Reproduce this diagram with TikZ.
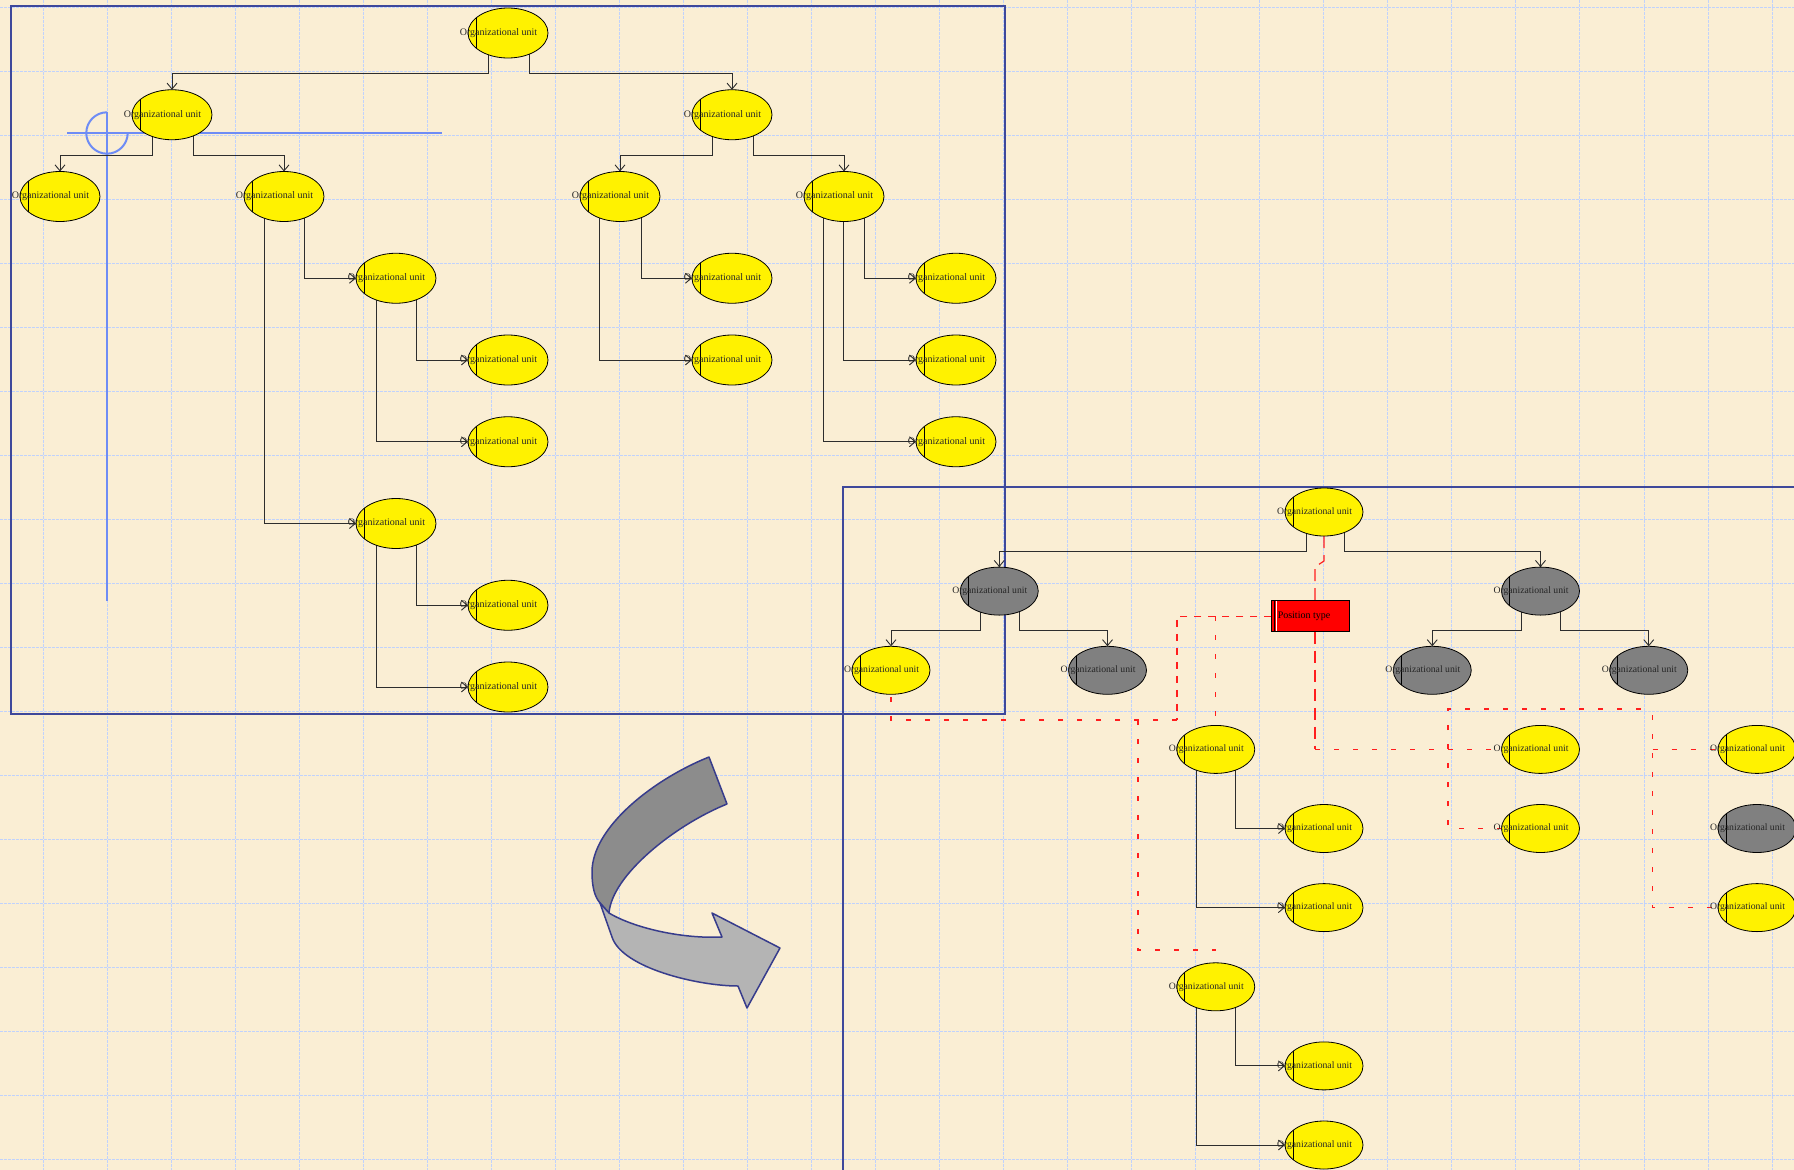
\documentclass[tikz,border=0pt]{standalone}
\usepackage{fontspec}
\setmainfont{Liberation Serif}
\usetikzlibrary{shapes.geometric,arrows.meta,calc}
\pgfdeclarelayer{bg}
\pgfdeclarelayer{edges}
\pgfsetlayers{bg,edges,main}

\definecolor{paper}{RGB}{250,238,212}
\definecolor{gridc}{RGB}{192,210,252}
\definecolor{framec}{RGB}{62,72,155}
\definecolor{crossc}{RGB}{110,140,245}
\definecolor{arrowline}{RGB}{55,60,140}
\definecolor{arrowdark}{RGB}{140,140,140}
\definecolor{arrowlight}{RGB}{180,180,180}
\definecolor{grayunit}{RGB}{128,128,128}
\definecolor{connc}{RGB}{45,45,45}
\definecolor{dashred}{RGB}{255,30,30}

\newcommand\oulabel{\makebox[0pt]{Organizational unit\hspace{19pt}}}
\newcommand\downedge[3]{\draw[conn] ([xshift=#3pt]#1.center) |- ($(#1.center)!.5!(#2.center)$) -| (#2.north);}
\newcommand\sideedge[3]{\draw[conn] ([xshift=#3pt]#1.center) |- (#2.west);}

\tikzset{
  unitL/.style={ellipse, draw=black, line width=0.8pt, minimum width=80pt, minimum height=50pt,
    inner sep=0pt, outer sep=0pt, fill=yellow, font=\fontsize{10}{12}\selectfont, text=black!85,
    path picture={\draw[black, line width=0.9pt] ([xshift=8pt]path picture bounding box.north west) -- ([xshift=8pt]path picture bounding box.south west);}},
  unitR/.style={unitL, minimum width=78pt, minimum height=48pt, font=\fontsize{9.7}{11}\selectfont},
  grayfill/.style={fill=grayunit},
  conn/.style={draw=connc, line width=1pt, -{Straight Barb[length=6pt,width=10pt,line width=0.9pt]}},
  redline/.style={draw=dashred, line width=1.2pt, dash pattern=on 7pt off 7pt},
  redsparse/.style={draw=dashred, line width=1.2pt, dash pattern=on 5pt off 14pt},
  redlong/.style={draw=dashred, line width=1.2pt, dash pattern=on 12pt off 7pt},
  gridline/.style={draw=gridc, line width=1pt, dash pattern=on 2.5pt off 1.5pt},
  framebox/.style={draw=framec, line width=2pt},
  crossline/.style={draw=crossc, line width=2pt},
  ptbox/.style={rectangle, draw=black, line width=1pt, fill=red, minimum width=78.5pt, minimum height=31pt,
    inner sep=0pt, outer sep=0pt, font=\fontsize{10}{12}\selectfont,
    path picture={\draw[black, line width=0.8pt] ([xshift=3pt]path picture bounding box.north west) -- ([xshift=3pt]path picture bounding box.south west);
                  \draw[white, line width=1pt] ([xshift=5pt]path picture bounding box.north west) -- ([xshift=5pt]path picture bounding box.south west);}}
}

\begin{document}
\begin{tikzpicture}[x=1pt,y=-1pt]
\useasboundingbox (0,0) rectangle (1794,1170);

\begin{pgfonlayer}{bg}
  \fill[paper] (0,0) rectangle (1794,1170);
  \foreach \i in {0,...,27} \draw[gridline] ({43+64.04*\i},0) -- ({43+64.04*\i},1170);
  \foreach \j in {0,...,18} \draw[gridline] (0,{7+64*\j}) -- (1794,{7+64*\j});
  % curved arrow
  \filldraw[draw=arrowline, fill=arrowdark, line width=1.5pt, line join=round]
    (709,757) .. controls (654,779) and (592,827) .. (592,872)
    .. controls (592,888) and (595,897) .. (600,903) -- (609,913)
    .. controls (612,875) and (675,825) .. (727,804) -- cycle;
  \filldraw[draw=arrowline, fill=arrowlight, line width=1.5pt, line join=round]
    (600,903) -- (612,937) .. controls (622,968) and (698,986) .. (738,986)
    -- (747,1008) -- (780,948) -- (712,913) -- (722,937)
    .. controls (682,939) and (634,928) .. (609,913) -- cycle;
  % frames
  \draw[framebox] (11,6) rectangle (1005,714);
  \draw[framebox] (1800,487) -- (843,487) -- (843,1176);
  % crosshair
  \draw[crossline] (67,133) -- (442,133);
  \draw[crossline] (107,112.3) -- (107,601);
  \begin{scope}
    \clip (80,100) -- (107,100) -- (107,133) -- (140,133) -- (140,165) -- (80,165) -- cycle;
    \draw[crossline] (107,133) circle[radius=20.7pt];
  \end{scope}
\end{pgfonlayer}

% left tree
\node[unitL] (L0) at (508,33) {\oulabel};
\node[unitL] (L1) at (172,114.75) {\oulabel};
\node[unitL] (L2) at (732,114.75) {\oulabel};
\node[unitL] (L3) at (60,196.5) {\oulabel};
\node[unitL] (L4) at (284,196.5) {\oulabel};
\node[unitL] (L5) at (620,196.5) {\oulabel};
\node[unitL] (L6) at (844,196.5) {\oulabel};
\node[unitL] (L7) at (396,278.25) {\oulabel};
\node[unitL] (L8) at (732,278.25) {\oulabel};
\node[unitL] (L9) at (956,278.25) {\oulabel};
\node[unitL] (L10) at (508,360) {\oulabel};
\node[unitL] (L11) at (732,360) {\oulabel};
\node[unitL] (L12) at (956,360) {\oulabel};
\node[unitL] (L13) at (508,441.75) {\oulabel};
\node[unitL] (L14) at (956,441.75) {\oulabel};
\node[unitL] (L15) at (396,523.5) {\oulabel};
\node[unitL] (L16) at (508,605.25) {\oulabel};
\node[unitL] (L17) at (508,687) {\oulabel};

% right tree
\node[unitR] (R0) at (1324,512) {\oulabel};
\node[unitR,grayfill] (R1) at (999.25,591.1) {\oulabel};
\node[unitR,grayfill] (R2) at (1540.5,591.1) {\oulabel};
\node[unitR] (R3) at (891,670.3) {\oulabel};
\node[unitR,grayfill] (R4) at (1107.5,670.3) {\oulabel};
\node[unitR,grayfill] (R5) at (1432.25,670.3) {\oulabel};
\node[unitR,grayfill] (R6) at (1648.75,670.3) {\oulabel};
\node[unitR] (R7) at (1215.75,749.4) {\oulabel};
\node[unitR] (R8) at (1540.5,749.4) {\oulabel};
\node[unitR] (R9) at (1757,749.4) {\oulabel};
\node[unitR] (R10) at (1324,828.5) {\oulabel};
\node[unitR] (R11) at (1540.5,828.5) {\oulabel};
\node[unitR,grayfill] (R12) at (1757,828.5) {\oulabel};
\node[unitR] (R13) at (1324,907.6) {\oulabel};
\node[unitR] (R14) at (1757,907.6) {\oulabel};
\node[unitR] (R15) at (1215.75,986.8) {\oulabel};
\node[unitR] (R16) at (1324,1065.9) {\oulabel};
\node[unitR] (R17) at (1324,1145) {\oulabel};

\node[ptbox] (pt) at (1310.5,616.2) {\makebox[0pt]{Position type\hspace{13pt}}};

\coordinate (j1) at (1177,720);
\coordinate (j2) at (1138,720);
\coordinate (j3) at (1138,950);
\coordinate (j5) at (1448,709);
\coordinate (j6) at (1644,709);
\coordinate (j7) at (1652.5,715);

\begin{pgfonlayer}{edges}
  \downedge{L0}{L1}{-20} \downedge{L0}{L2}{21}
  \downedge{L1}{L3}{-20} \downedge{L1}{L4}{21}
  \downedge{L2}{L5}{-20} \downedge{L2}{L6}{21}
  \sideedge{L4}{L7}{20} \sideedge{L4}{L15}{-20}
  \sideedge{L7}{L10}{20} \sideedge{L7}{L13}{-20}
  \sideedge{L15}{L16}{20} \sideedge{L15}{L17}{-20}
  \sideedge{L5}{L8}{21} \sideedge{L5}{L11}{-21}
  \sideedge{L6}{L9}{20} \sideedge{L6}{L12}{-1} \sideedge{L6}{L14}{-21}

  \downedge{R0}{R1}{-18} \downedge{R0}{R2}{20}
  \downedge{R1}{R3}{-19} \downedge{R1}{R4}{20}
  \downedge{R2}{R5}{-19} \downedge{R2}{R6}{20}
  \sideedge{R7}{R10}{20} \sideedge{R7}{R13}{-19}
  \sideedge{R15}{R16}{20} \sideedge{R15}{R17}{-19}

  \draw[redlong] (R0.south) -- ++(0,25) -- ++(-9,6) -- ([xshift=4.5pt]pt.north);
  \draw[redline] (pt.west) -| (j1);
  \draw[redsparse] (j1) -| (R3.south);
  \draw[redsparse] (R7.north |- pt.west) -- (R7.north);
  \draw[redsparse] (j2) -- (j3) -| (R15.north);
  \draw[redlong] ([xshift=4.5pt]pt.south) -- ([xshift=4.5pt]pt.south |- R8.west);
  \draw[redsparse] ([xshift=4.5pt]pt.south |- R8.west) -- (R8.west);
  \draw[redsparse] (R11.west) -| (j5) -- (j6);
  \draw[redsparse] (j7) |- (R14.west);
  \draw[redsparse] (j7 |- R9.west) -- (R9.west);
\end{pgfonlayer}
\end{tikzpicture}
\end{document}
